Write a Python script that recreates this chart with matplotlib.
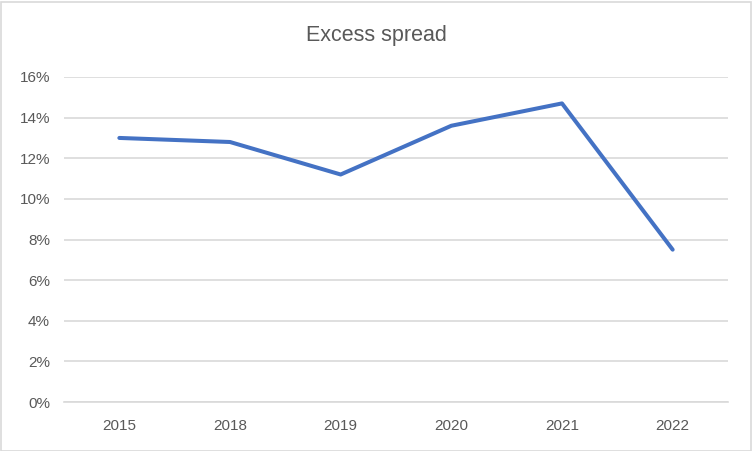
import matplotlib.pyplot as plt
from matplotlib.ticker import PercentFormatter
from matplotlib.patches import Rectangle

# data
years = ['2015', '2018', '2019', '2020', '2021', '2022']
spread = [13.0, 12.8, 11.2, 13.6, 14.7, 7.5]
y_ticks = [0, 2, 4, 6, 8, 10, 12, 14, 16]

plt.rcParams['font.family'] = ['Liberation Sans', 'DejaVu Sans']

fig = plt.figure(figsize=(7.52, 4.51), dpi=100)
ax = fig.add_axes([64 / 752, (451 - 402) / 451, (728 - 64) / 752, (402 - 77) / 451])

x = range(len(years))
ax.plot(x, spread, color='#4472C4', linewidth=2.9, solid_capstyle='round',
        solid_joinstyle='round', zorder=3)

ax.set_xlim(-0.5, len(years) - 0.5)
ax.set_ylim(0, 16)
ax.set_yticks(y_ticks)
ax.yaxis.set_major_formatter(PercentFormatter(decimals=0))
ax.set_xticks(list(x))
ax.set_xticklabels(years)

ax.grid(axis='y', color='#d9d9d9', linewidth=1.2)
ax.set_axisbelow(True)
for s in ['top', 'right', 'left']:
    ax.spines[s].set_visible(False)
ax.spines['bottom'].set_color('#d9d9d9')
ax.spines['bottom'].set_linewidth(1.2)
ax.tick_params(length=0, labelsize=11, labelcolor='#595959', pad=10)
ax.tick_params(axis='x', pad=12)

fig.text(376 / 752, 1 - 36 / 451, 'Excess spread', ha='center', va='center',
         fontsize=15.5, color='#595959')

# chart border
fig.patches.append(Rectangle((0.5 / 752, 0.5 / 451), 750 / 752, 449 / 451,
                             transform=fig.transFigure, fill=False,
                             edgecolor='#d9d9d9', linewidth=1.2))

fig.savefig('out.png', dpi=100)
